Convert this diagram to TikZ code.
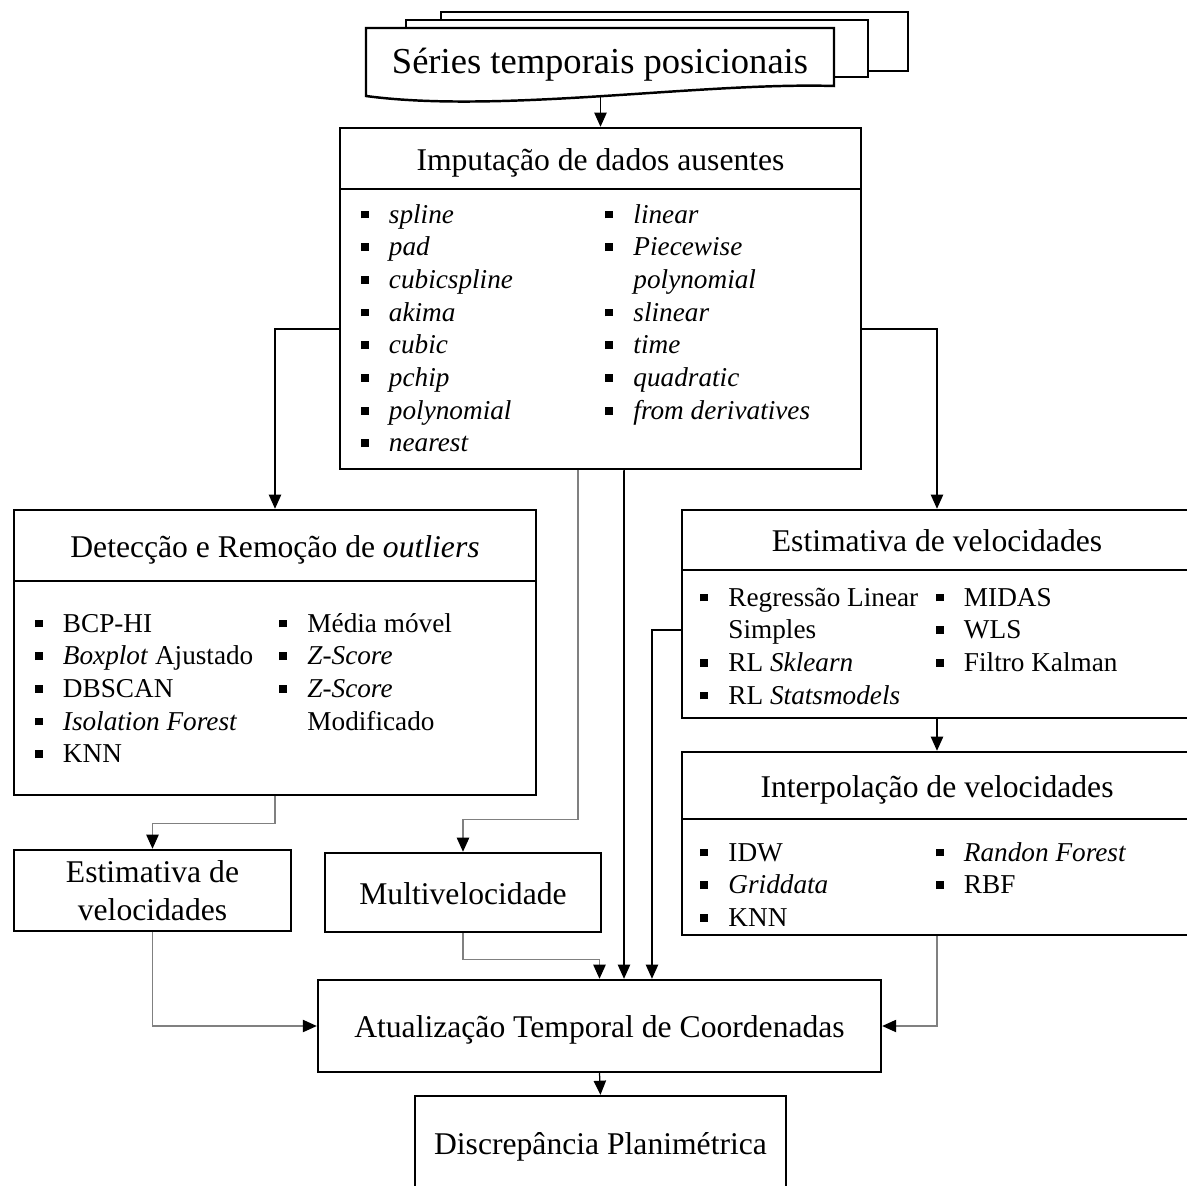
\documentclass[tikz,border=0pt]{standalone}
\usepackage{fontspec}
\setmainfont{Liberation Serif}
\usetikzlibrary{arrows.meta}

\newcommand{\blt}{\makebox[16pt][l]{\rule[2.6pt]{4.5pt}{4.5pt}}}
\newcommand{\itemfont}{\fontsize{15.5}{18.6}\selectfont}

\begin{document}
\begin{tikzpicture}[x=0.02cm, y=-0.02cm]
        \tikzstyle{box} = [rectangle, draw=black, line width=1.4pt, fill=white, text centered, inner sep=0pt, font=\fontsize{18}{21.6}\selectfont]
        \tikzstyle{titlebox} = [box, text height=16pt, text depth=2.8pt]
        \tikzstyle{listbox} = [rectangle, draw=black, line width=1.4pt, inner sep=0pt]
        \tikzstyle{items} = [anchor=base west, inner sep=0pt, font=\itemfont]
        \tikzstyle{flow} = [-{Triangle[length=8pt,width=7pt]}, line width=0.7pt, draw=black]
        \tikzstyle{flowgray} = [line width=0.8pt, draw=black!50, -{Triangle[length=8pt,width=7pt,color=black]}]

        \useasboundingbox (0,0) rectangle (1187,1186);
        \clip (0,0) rectangle (1187,1186);
        \fill[white] (0,0) rectangle (1187,1186);

        % stacked documents
        \draw[line width=1.4pt, fill=white] (441,12) rectangle (908,71);
        \draw[line width=1.4pt, fill=white] (406,20) rectangle (868,77);
        \draw[line width=1.4pt, fill=white] (366,96) -- (366,28) -- (834,28) -- (834,86)
            .. controls (700,82) and (500,114) .. (366,96) -- cycle;
        \node (serie) [anchor=base, inner sep=0pt, font=\fontsize{20.8}{25}\selectfont] at (600,74) {Séries temporais posicionais};
        \coordinate (seriebot) at (600.5,97);

        % imputation
        \node (imph) [titlebox, minimum width=10.42cm, minimum height=1.22cm] at (600.5,158.5) {Imputação de dados ausentes};
        \node (impb) [listbox, minimum width=10.42cm, minimum height=5.6cm] at (600.5,329) {};
        \node (impA) [items] at (360.5,223) {\begin{tabular}[t]{@{}l@{}l@{}}
            \blt & \textit{spline}\\ \blt & \textit{pad}\\ \blt & \textit{cubicspline}\\ \blt & \textit{akima}\\
            \blt & \textit{cubic}\\ \blt & \textit{pchip}\\ \blt & \textit{polynomial}\\ \blt & \textit{nearest}
            \end{tabular}};
        \node (impB) [items] at (605,223) {\begin{tabular}[t]{@{}l@{}l@{}}
            \blt & \textit{linear}\\ \blt & \textit{Piecewise}\\ & \textit{polynomial}\\ \blt & \textit{slinear}\\
            \blt & \textit{time}\\ \blt & \textit{quadratic}\\ \blt & \textit{from derivatives}
            \end{tabular}};

        % outliers
        \node (outh) [titlebox, minimum width=10.44cm, minimum height=1.42cm] at (275,545.5) {Detecção e Remoção de \textit{outliers}};
        \node (outb) [listbox, minimum width=10.44cm, minimum height=4.28cm] at (275,688) {};
        \node (outA) [items] at (34.5,632) {\begin{tabular}[t]{@{}l@{}l@{}}
            \blt & BCP-HI\\ \blt & \textit{Boxplot} Ajustado\\ \blt & DBSCAN\\ \blt & \textit{Isolation Forest}\\ \blt & KNN
            \end{tabular}};
        \node (outB) [items] at (279,632) {\begin{tabular}[t]{@{}l@{}l@{}}
            \blt & Média móvel\\ \blt & \textit{Z-Score}\\ \blt & \textit{Z-Score}\\ & Modificado
            \end{tabular}};

        % velocity estimate
        \node (velh) [titlebox, minimum width=10.2cm, minimum height=1.2cm] at (937,540) {Estimativa de velocidades};
        \node (velb) [listbox, minimum width=10.2cm, minimum height=2.96cm] at (937,644) {};
        \node (velA) [items] at (700,606) {\begin{tabular}[t]{@{}l@{}l@{}}
            \blt & Regressão Linear\\ & Simples\\ \blt & RL \textit{Sklearn}\\ \blt & RL \textit{Statsmodels}
            \end{tabular}};
        \node (velB) [items] at (935.5,606) {\begin{tabular}[t]{@{}l@{}l@{}}
            \blt & MIDAS\\ \blt & WLS\\ \blt & Filtro Kalman
            \end{tabular}};

        % velocity interpolation
        \node (inth) [titlebox, minimum width=10.2cm, minimum height=1.34cm] at (937,785.5) {Interpolação de velocidades};
        \node (intb) [listbox, minimum width=10.2cm, minimum height=2.32cm] at (937,877) {};
        \node (intA) [items] at (700,861) {\begin{tabular}[t]{@{}l@{}l@{}}
            \blt & IDW\\ \blt & \textit{Griddata}\\ \blt & KNN
            \end{tabular}};
        \node (intB) [items] at (935.5,861) {\begin{tabular}[t]{@{}l@{}l@{}}
            \blt & \textit{Randon Forest}\\ \blt & RBF
            \end{tabular}};

        % lower boxes
        \node (est) [box, align=center, minimum width=5.54cm, minimum height=1.62cm] at (152.5,890.5) {Estimativa de\\velocidades};
        \node (multi) [titlebox, minimum width=5.52cm, minimum height=1.58cm] at (463,892.5) {Multivelocidade};
        \node (atual) [titlebox, minimum width=11.26cm, minimum height=1.84cm] at (599.5,1026) {Atualização Temporal de Coordenadas};
        \node (disc) [titlebox, minimum width=7.42cm, minimum height=1.88cm] at (600.5,1143) {Discrepância Planimétrica};

        % connectors
        \draw [flow] (seriebot) -- (imph.north);
        \draw [flow] (impb.west) -| (outh.north);
        \draw [flow] (impb.east) -| (velh.north);
        \draw [flowgray] ([xshift=-0.45cm]impb.south) -- ++(0,349) -| (multi.north);
        \draw [flow] ([xshift=0.47cm]impb.south) -| ([xshift=0.49cm]atual.north);
        \draw [flowgray] (outb.south) -- ++(0,27) -| (est.north);
        \draw [flowgray] (est.south) |- (atual.west);
        \draw [flowgray] (multi.south) -- ++(0,26) -| (atual.north);
        \draw [flow] ([yshift=0.28cm]velb.west) -| ([xshift=1.05cm]atual.north);
        \draw [flow] (velb.south) -- (inth.north);
        \draw [flowgray] (intb.south) |- (atual.east);
        \draw [flow] (atual.south) -- (disc.north);
\end{tikzpicture}
\end{document}
